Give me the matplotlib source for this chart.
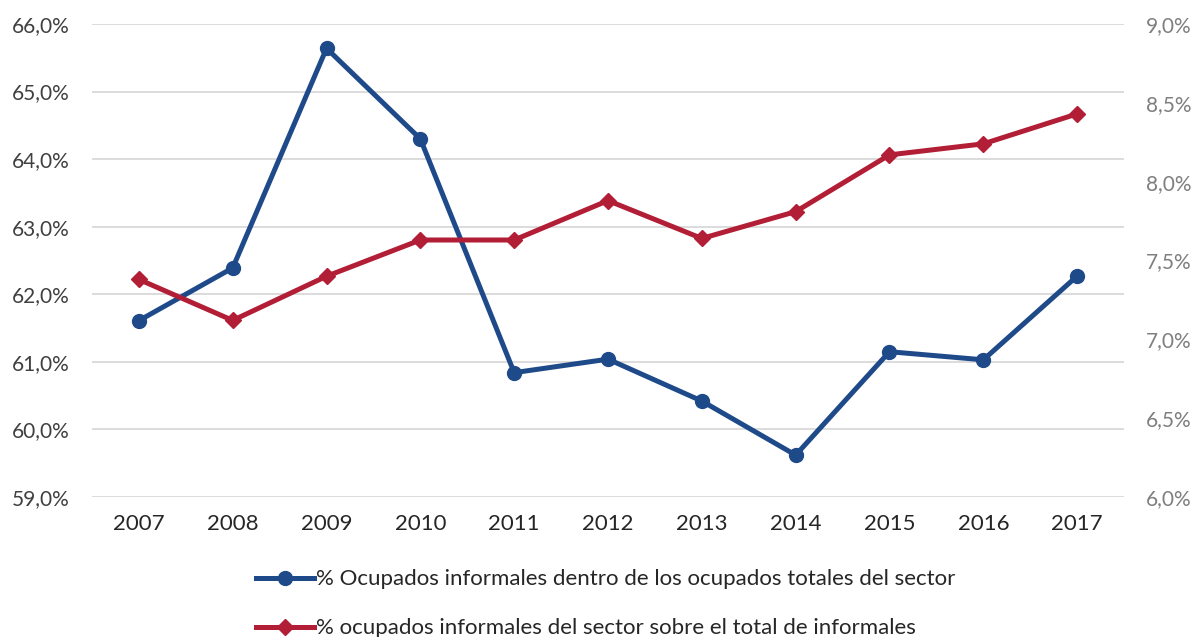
import numpy as np
import matplotlib.pyplot as plt
from matplotlib.ticker import FuncFormatter

years = ["2007", "2008", "2009", "2010", "2011", "2012", "2013", "2014", "2015", "2016", "2017"]
# % informal employed within total employed of the sector (left axis)
ocupados_sector = [61.61, 62.39, 65.64, 64.30, 60.84, 61.04, 60.42, 59.62, 61.15, 61.03, 62.27]
# % informal employed of the sector over total informal (right axis)
sector_sobre_total = [7.38, 7.12, 7.40, 7.63, 7.63, 7.88, 7.64, 7.81, 8.17, 8.24, 8.43]

label_blue = "% Ocupados informales dentro de los ocupados totales del sector"
label_red = "% ocupados informales del sector sobre el total de informales"

blue = "#1F4A8A"
red = "#B21E35"

plt.rcParams['font.family'] = ['Lato', 'DejaVu Sans']

fig = plt.figure(figsize=(11.99, 6.37), dpi=100)
ax = fig.add_axes([0.0767, 0.2198, 0.8608, 0.7425])
ax2 = ax.twinx()

x = np.arange(len(years))

l1, = ax.plot(x, ocupados_sector, color=blue, lw=3.6, marker='o', markersize=10,
              label=label_blue, zorder=3)
l2, = ax2.plot(x, sector_sobre_total, color=red, lw=3.6, marker='D', markersize=8.5,
               label=label_red, zorder=3)

ax.set_xlim(-0.5, len(years) - 0.5)
ax.set_ylim(59, 66)
ax2.set_ylim(6, 9)
ax.set_yticks(np.arange(59, 66.1, 1))
ax2.set_yticks(np.arange(6, 9.01, 0.5))

fmt = FuncFormatter(lambda v, p: f"{v:.1f}%".replace(".", ","))
ax.yaxis.set_major_formatter(fmt)
ax2.yaxis.set_major_formatter(fmt)

ax.set_xticks(x)
ax.set_xticklabels(years)

ax.grid(axis='y', color='#D9D9D9', lw=1.3, zorder=0)
ax.set_axisbelow(True)

for a in (ax, ax2):
    for s in a.spines.values():
        s.set_visible(False)
    a.tick_params(length=0)

ax.tick_params(axis='y', labelsize=15, labelcolor='#404040', pad=16)
ax.tick_params(axis='x', labelsize=16, labelcolor='#262626', pad=12)
ax2.tick_params(axis='y', labelsize=15, labelcolor='#7F7F7F', pad=16)

fig.legend(handles=[l1, l2], loc='center', bbox_to_anchor=(0.505, 0.052), ncol=1,
           frameon=False, fontsize=16, handlelength=2.6, handletextpad=0.1,
           labelspacing=1.3, labelcolor='#262626')

fig.savefig("out.png", dpi=100)
